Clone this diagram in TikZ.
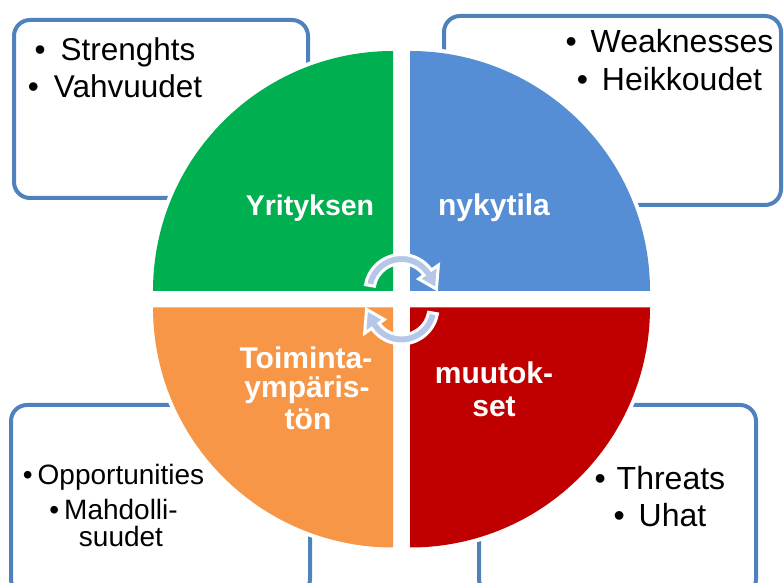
\documentclass[tikz,border=0pt]{standalone}
\usepackage{fontspec}
\setmainfont{Liberation Sans}

\definecolor{qgreen}{HTML}{00B050}
\definecolor{qblue}{HTML}{558ED5}
\definecolor{qorange}{HTML}{F79646}
\definecolor{qred}{HTML}{C00000}
\definecolor{boxline}{HTML}{4F81BD}
\definecolor{cyclefill}{HTML}{B4C7E7}

\begin{document}
\begin{tikzpicture}[x=1pt,y=1pt,
  infobox/.style={draw=boxline, line width=4, rounded corners=16},
  quad/.style={preaction={draw=white, line width=8}},
  cyclearrow/.style={fill=cyclefill, draw=white, line width=3, line join=miter},
  listtext/.style={anchor=base, inner sep=0, font=\fontsize{32}{36}\selectfont},
  quadlabel/.style={anchor=base, inner sep=0, text=white, font=\bfseries\fontsize{30}{32}\selectfont}]
\useasboundingbox (0,0) rectangle (784,583);

% the four SWOT boxes behind the circle
\draw[infobox] (14,563) rectangle (308,385);
\draw[infobox] (444,567) rectangle (781,378);
\draw[infobox] (11,178) rectangle (310,-12);
\draw[infobox] (479,178) rectangle (756,-12);

% circle split into four quadrants
\path[quad, fill=qgreen] (393,292) -- (153,292) arc[start angle=180, end angle=90, radius=240] -- cycle;
\path[quad, fill=qblue] (410,292) -- (410,532) arc[start angle=90, end angle=0, radius=240] -- cycle;
\path[quad, fill=qorange] (393,275.5) -- (153,275.5) arc[start angle=180, end angle=270, radius=240] -- cycle;
\path[quad, fill=qred] (410,275.5) -- (650,275.5) arc[start angle=0, end angle=-90, radius=240] -- cycle;

% circular arrows in the middle
\coordinate (topc) at (401.5,292);
\coordinate (botc) at (401.5,275.5);
\path[cyclearrow] ([shift={(topc)}]170:36.5) arc[start angle=170, end angle=35, radius=36.5]
  -- ([shift={(topc)}]35:45) -- ([shift={(topc)}]3:35) -- ([shift={(topc)}]35:21)
  -- ([shift={(topc)}]35:27.5) arc[start angle=35, end angle=170, radius=27.5] -- cycle;
\path[cyclearrow] ([shift={(botc)}]-10:36.5) arc[start angle=-10, end angle=-145, radius=36.5]
  -- ([shift={(botc)}]-145:45) -- ([shift={(botc)}]-177:35) -- ([shift={(botc)}]-145:21)
  -- ([shift={(botc)}]-145:27.5) arc[start angle=-145, end angle=-10, radius=27.5] -- cycle;

% quadrant labels
\node[quadlabel, font=\bfseries\fontsize{28.5}{32}\selectfont] (y1) at (310,367) {Yrityksen};
\node[quadlabel] (n1) at (494,367) {nykytila};
\node[quadlabel] (o1) at (306,214.7) {Toiminta-};
\node[quadlabel] (o2) at (307,185) {ympäris-};
\node[quadlabel] (o3) at (308,153) {tön};
\node[quadlabel] (r1) at (494,199) {muutok-};
\node[quadlabel] (r2) at (494,166) {set};

% box texts
\node[listtext, font=\fontsize{31.5}{36}\selectfont] (s1) at (128,522) {\llap{\textbullet\hspace{15pt}}Strenghts};
\node[listtext, font=\fontsize{31.5}{36}\selectfont] (s2) at (128,485) {\llap{\textbullet\hspace{15pt}}Vahvuudet};
\node[listtext] (w1) at (682,530) {\llap{\textbullet\hspace{14pt}}Weaknesses};
\node[listtext] (w2) at (682,492) {\llap{\textbullet\hspace{14pt}}Heikkoudet};
\node[listtext, font=\fontsize{28}{31}\selectfont] (p1) at (121,98) {\llap{\textbullet\hspace{5pt}}Opportunities};
\node[listtext, font=\fontsize{28}{31}\selectfont] (p2) at (121,63) {\llap{\textbullet\hspace{5pt}}Mahdolli-};
\node[listtext, font=\fontsize{28}{31}\selectfont] (p3) at (121,36) {suudet};
\node[listtext] (t1) at (671,93) {\llap{\textbullet\hspace{11pt}}Threats};
\node[listtext] (t2) at (672.5,56) {\llap{\textbullet\hspace{14pt}}Uhat};
\end{tikzpicture}
\end{document}
